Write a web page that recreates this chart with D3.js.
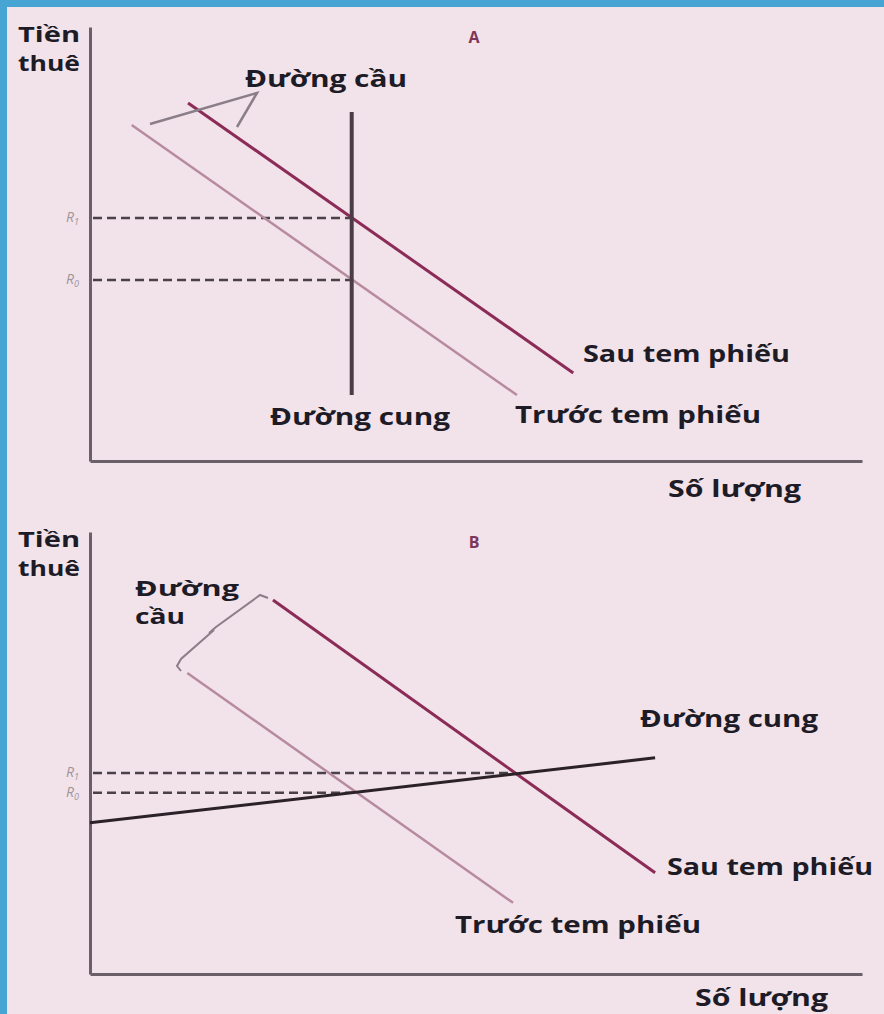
<!DOCTYPE html>
<html>
<head>
<meta charset="utf-8">
<script src="https://cdn.jsdelivr.net/npm/d3@7"></script>
<style>
  html, body { margin: 0; padding: 0; background: #f2e2ea; }
  svg { display: block; }
</style>
</head>
<body>
<script>
// shared domains (abstract units)
const quantityDomain = [0, 100]
const rentDomain = [0, 100]

// panel A: vertical supply
const demandBeforeA = [[5.4, 77.4], [55.3, 15.2]]
const demandAfterA = [[12.7, 82.5], [62.6, 20.3]]
const supplyA = [[33.9, 80.4], [33.9, 15.2]]
const rentLevelsA = [
    {sub: "1", rent: 56.0, quantity: 33.9},
    {sub: "0", rent: 41.7, quantity: 33.9}
]

// panel B: elastic supply
const demandBeforeB = [[12.6, 68.1], [54.8, 16.1]]
const demandAfterB = [[23.7, 84.6], [73.2, 22.9]]
const supplyB = [[0, 34.2], [73.2, 48.9]]
const rentLevelsB = [
    {sub: "1", rent: 45.5, quantity: 55.1},
    {sub: "0", rent: 41.0, quantity: 34.3}
]

const yAxisTitle = ["Tiền", "thuê"]
const xAxisTitle = "Số lượng"
const afterLabel = "Sau tem phiếu"
const beforeLabel = "Trước tem phiếu"
const supplyLabel = "Đường cung"
const demandLabel = "Đường cầu"

const W = 884, H = 1014
const font = "'Open Sans', 'Noto Sans', sans-serif"
const ink = "#1d1b26"

const svg = d3.select("body").append("svg")
    .attr("width", W)
    .attr("height", H)

svg.append("rect").attr("width", W).attr("height", H).attr("fill", "#f2e2ea")
svg.append("rect").attr("width", W).attr("height", 7).attr("fill", "#46a5d3")
svg.append("rect").attr("width", 7).attr("height", H).attr("fill", "#46a5d3")

function label(g, txt, x, y, len, size) {
    let t = g.append("text")
        .attr("x", x)
        .attr("y", y)
        .style("font-family", font)
        .style("font-weight", 700)
        .style("font-size", (size || 23) + "px")
        .attr("fill", ink)
        .text(txt)
    if (len) t.attr("textLength", len).attr("lengthAdjust", "spacingAndGlyphs")
    return t
}

function panel(cfg) {
    let g = svg.append("g")

    let x = d3.scaleLinear().domain(quantityDomain).range([90, 862])
    let y = d3.scaleLinear().domain(rentDomain).range([cfg.bottom, cfg.top])
    let line = d3.line().x(d => x(d[0])).y(d => y(d[1]))

    // axes as bare lines
    g.append("g").attr("transform", "translate(90,0)")
        .call(d3.axisLeft(y).tickValues([]).tickSizeOuter(0))
    g.append("g").attr("transform", `translate(0,${cfg.bottom})`)
        .call(d3.axisBottom(x).tickValues([]).tickSizeOuter(0))
    g.selectAll(".domain").attr("stroke", "#6b6068").attr("stroke-width", 3)

    // dashed rent levels
    g.selectAll(".lvl").data(cfg.levels).join("line")
        .attr("x1", x(0) + 3)
        .attr("x2", d => x(d.quantity))
        .attr("y1", d => y(d.rent))
        .attr("y2", d => y(d.rent))
        .attr("stroke", "#4a4247")
        .attr("stroke-width", 2.5)
        .attr("stroke-dasharray", "9,5")

    let rl = g.selectAll(".rl").data(cfg.levels).join("text")
        .attr("x", 79)
        .attr("y", d => y(d.rent) + 4)
        .attr("text-anchor", "end")
        .style("font-family", font)
        .style("font-style", "italic")
        .style("font-size", "14px")
        .attr("fill", "#9c969a")
    rl.append("tspan").text("R")
    rl.append("tspan").attr("dy", 3).style("font-size", "9px").text(d => d.sub)

    g.append("path").datum(cfg.before).attr("d", line)
        .attr("fill", "none").attr("stroke", "#b78b9e").attr("stroke-width", 2.5)
    g.append("path").datum(cfg.after).attr("d", line)
        .attr("fill", "none").attr("stroke", "#8b2b57").attr("stroke-width", 3)
    g.append("path").datum(cfg.supply).attr("d", line)
        .attr("fill", "none").attr("stroke", cfg.supplyColor).attr("stroke-width", cfg.supplyWidth)

    // titles
    label(g, yAxisTitle[0], 18, cfg.top + 15, 62, 21)
    label(g, yAxisTitle[1], 18, cfg.top + 44, 62, 21)
    label(g, xAxisTitle, cfg.xTitle[0], cfg.xTitle[1], 133)
    g.append("text")
        .attr("x", 474).attr("y", cfg.top + 16)
        .attr("text-anchor", "middle")
        .style("font-family", font)
        .style("font-weight", 700)
        .style("font-size", "16px")
        .attr("fill", "#7d3558")
        .text(cfg.letter)

    return g
}

// ---- panel A
let gA = panel({
    top: 27, bottom: 461, letter: "A",
    before: demandBeforeA, after: demandAfterA, supply: supplyA, levels: rentLevelsA,
    supplyColor: "#4b3d47", supplyWidth: 4, xTitle: [668, 497]
})
label(gA, demandLabel, 245, 87, 162)
label(gA, afterLabel, 583, 362, 207)
label(gA, supplyLabel, 270, 425, 180)
label(gA, beforeLabel, 515, 423, 246)
gA.append("path")
    .attr("d", "M150,124 L257,93 L237,127")
    .attr("fill", "none")
    .attr("stroke", "#8a7f88")
    .attr("stroke-width", 2.5)

// ---- panel B
let gB = panel({
    top: 532, bottom: 974, letter: "B",
    before: demandBeforeB, after: demandAfterB, supply: supplyB, levels: rentLevelsB,
    supplyColor: "#2b2228", supplyWidth: 3, xTitle: [695, 1006]
})
label(gB, "Đường", 135, 596, 104, 21)
label(gB, "cầu", 135, 624, 50, 21)
label(gB, supplyLabel, 640, 727, 178)
label(gB, afterLabel, 667, 875, 206)
label(gB, beforeLabel, 455, 933, 246)
gB.append("path")
    .attr("d", "M268,598 L260,595 L216,627 L209,633 L214,630 L181,659 L177,666 L181,671")
    .attr("fill", "none")
    .attr("stroke", "#8a7f88")
    .attr("stroke-width", 2)
</script>
</body>
</html>
